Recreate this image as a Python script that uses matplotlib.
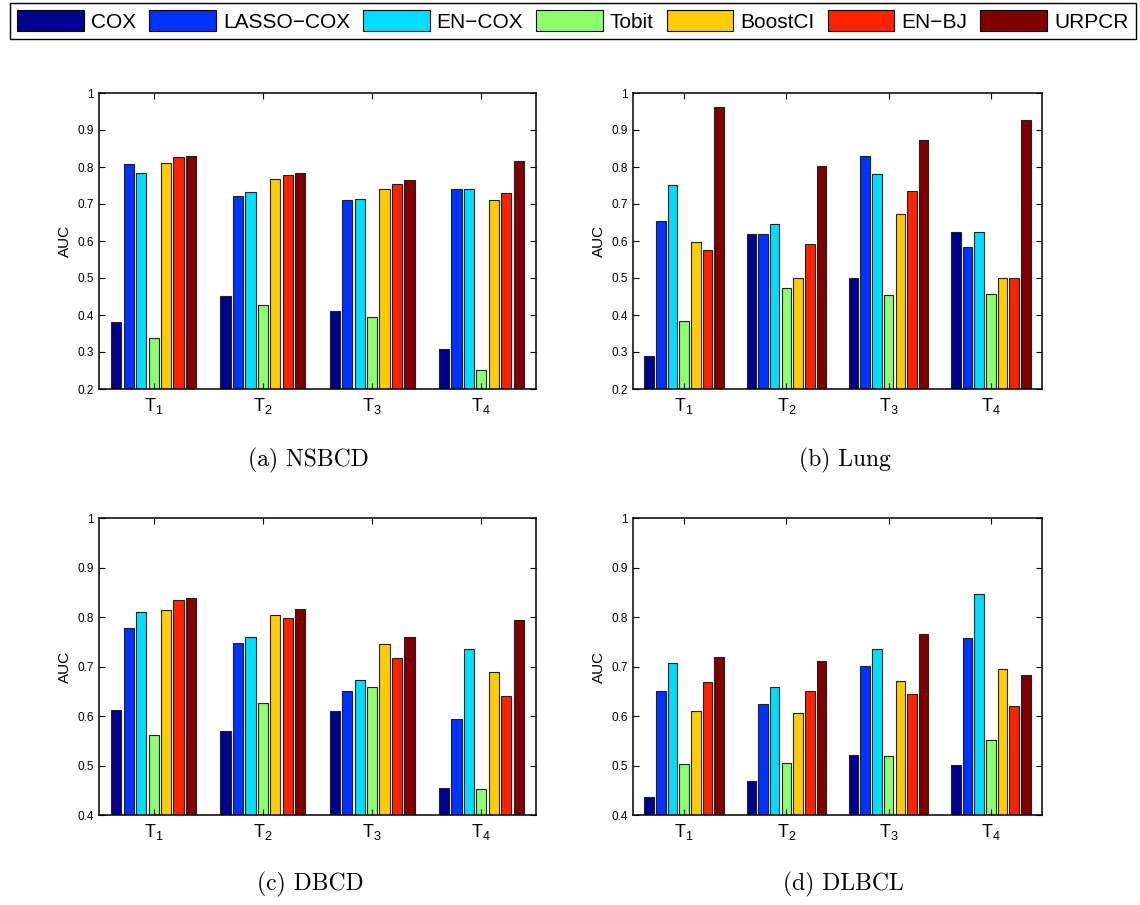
import matplotlib
matplotlib.use('Agg')
import matplotlib.pyplot as plt
from matplotlib.patches import Patch
import numpy as np

# methods and colours (MATLAB jet-like)
methods = ['COX', 'LASSO\u2212COX', 'EN\u2212COX', 'Tobit', 'BoostCI', 'EN\u2212BJ', 'URPCR']
colors = ['#00008f', '#0033ff', '#00ddff', '#8cff6e', '#ffcc00', '#ff2200', '#800000']
tlabels = ['$\\mathregular{T_1}$', '$\\mathregular{T_2}$', '$\\mathregular{T_3}$', '$\\mathregular{T_4}$']

# AUC values, rows = T1..T4, columns = methods
nsbcd = [[0.380, 0.807, 0.785, 0.338, 0.812, 0.828, 0.830],
         [0.450, 0.722, 0.732, 0.426, 0.768, 0.778, 0.783],
         [0.410, 0.710, 0.713, 0.395, 0.741, 0.754, 0.764],
         [0.309, 0.740, 0.740, 0.250, 0.711, 0.731, 0.815]]
lung = [[0.288, 0.654, 0.750, 0.384, 0.597, 0.577, 0.961],
        [0.619, 0.619, 0.645, 0.473, 0.500, 0.592, 0.803],
        [0.500, 0.829, 0.781, 0.453, 0.672, 0.735, 0.872],
        [0.625, 0.583, 0.625, 0.458, 0.500, 0.500, 0.926]]
dbcd = [[0.612, 0.778, 0.811, 0.562, 0.815, 0.835, 0.839],
        [0.569, 0.748, 0.760, 0.626, 0.805, 0.798, 0.817],
        [0.610, 0.651, 0.673, 0.659, 0.746, 0.717, 0.759],
        [0.454, 0.594, 0.735, 0.453, 0.688, 0.641, 0.794]]
dlbcl = [[0.436, 0.651, 0.708, 0.504, 0.610, 0.669, 0.719],
         [0.469, 0.625, 0.658, 0.506, 0.606, 0.651, 0.711],
         [0.521, 0.701, 0.736, 0.520, 0.671, 0.645, 0.765],
         [0.502, 0.757, 0.847, 0.551, 0.694, 0.620, 0.683]]

panels = [(nsbcd, '(a) NSBCD', 0.2), (lung, '(b) Lung', 0.2),
          (dbcd, '(c) DBCD', 0.4), (dlbcl, '(d) DLBCL', 0.4)]
# axes rectangles and caption centres, in pixels of the 1140x905 figure
W, H = 1140, 905
boxes = [(99, 93, 536, 389), (633, 93, 1042, 389),
         (99, 518, 536, 815), (633, 518, 1042, 815)]
captions = [(308, 460), (845, 460), (310, 884), (843, 884)]

plt.rcParams['font.family'] = 'Liberation Sans'
plt.rcParams['mathtext.fontset'] = 'custom'

fig = plt.figure(figsize=(W / 100, H / 100), dpi=100)

nm = len(methods)
slot = 0.8 / nm
x = np.arange(1, 5)
for (data, cap, ymin), (l, t, r, b), (cx, cy) in zip(panels, boxes, captions):
    ax = fig.add_axes([l / W, 1 - b / H, (r - l) / W, (b - t) / H])
    vals = np.array(data)
    for j in range(nm):
        ax.bar(x - 0.4 + slot * (j + 0.5), vals[:, j] - ymin, bottom=ymin,
               width=slot * 0.82, color=colors[j], edgecolor='#222222', linewidth=0.8)
    ax.set_xlim(0.5, 4.5)
    ax.set_ylim(ymin, 1)
    ax.set_xticks(x)
    ax.set_xticklabels(tlabels, fontsize=13)
    yt = np.round(np.arange(ymin, 1.001, 0.1), 1)
    ax.set_yticks(yt)
    ax.set_yticklabels(['1' if v == 1 else '%.1f' % v for v in yt], fontsize=8.5)
    ax.tick_params(direction='in', top=True, right=True, length=4, width=0.8)
    ax.tick_params(axis='x', pad=5)
    for s in ax.spines.values():
        s.set_linewidth(1.1)
    ax.set_ylabel('AUC', fontsize=11, labelpad=4)
    fig.text(cx / W, 1 - cy / H, cap, ha='center', va='center', fontsize=17, family='cmr10')

handles = [Patch(facecolor=c, edgecolor='black', linewidth=0.8) for c in colors]
leg = fig.legend(handles, methods, loc='upper left', ncol=nm,
                 bbox_to_anchor=(10 / W, 1 - 3 / H),
                 fontsize=15, handlelength=3.2, handleheight=1.15,
                 handletextpad=0.34, columnspacing=0.62, borderpad=0.35,
                 borderaxespad=0.0, fancybox=False, edgecolor='black', framealpha=1)
leg.get_frame().set_linewidth(1.0)

fig.savefig('out.png', dpi=100)
